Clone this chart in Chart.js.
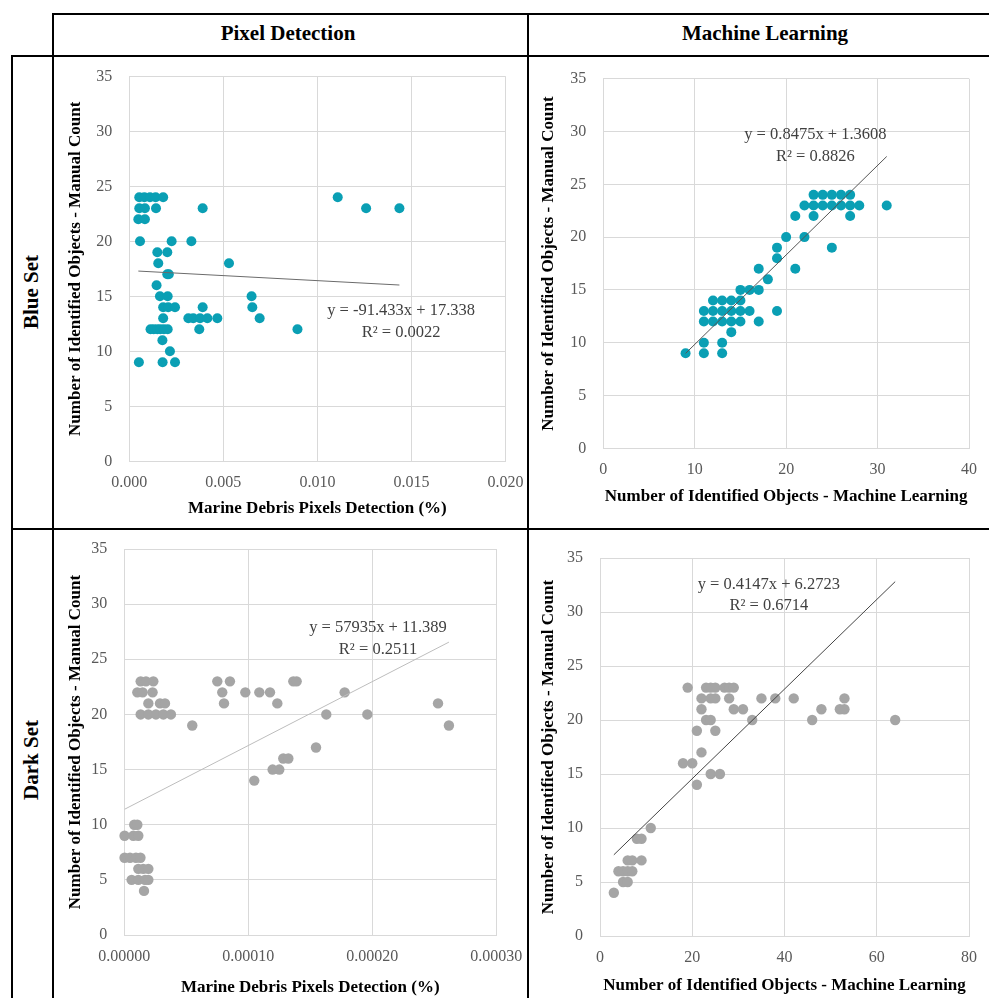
<!DOCTYPE html>
<html>
<head>
<meta charset="utf-8">
<script src="https://cdn.jsdelivr.net/npm/chart.js"></script>
<style>
  body { margin: 0; background: #fff; width: 989px; height: 998px; position: relative; overflow: hidden; font-family: "Liberation Serif", serif; }
  canvas { position: absolute; left: 0; top: 0; }
  .ln { position: absolute; background: #000; }
  .hd { position: absolute; font-weight: bold; font-size: 21px; white-space: nowrap; transform: translate(-50%, -50%); }
  .rl { position: absolute; font-weight: bold; font-size: 21px; white-space: nowrap; transform: translate(-50%, -50%) rotate(-90deg); }
</style>
</head>
<body>
<div class="ln" style="left:53px;top:13px;width:936px;height:2px"></div>
<div class="ln" style="left:11px;top:55px;width:978px;height:2px"></div>
<div class="ln" style="left:11px;top:528px;width:978px;height:2px"></div>
<div class="ln" style="left:11px;top:55px;width:2px;height:943px"></div>
<div class="ln" style="left:52px;top:13px;width:2px;height:985px"></div>
<div class="ln" style="left:527px;top:13px;width:2px;height:985px"></div>
<div class="hd" style="left:288px;top:33px">Pixel Detection</div>
<div class="hd" style="left:765px;top:33px">Machine Learning</div>
<div class="rl" style="left:31px;top:292px">Blue Set</div>
<div class="rl" style="left:31px;top:760px">Dark Set</div>

<canvas id="c1" width="989" height="998"></canvas>
<canvas id="c2" width="989" height="998"></canvas>
<canvas id="c3" width="989" height="998"></canvas>
<canvas id="c4" width="989" height="998"></canvas>

<script>
// Blue set - pixel detection
const bluePixelX = [0.00053, 0.0008, 0.0011, 0.0014, 0.0018, 0.01108,
  0.00053, 0.00083, 0.00142, 0.0039, 0.01259, 0.01436,
  0.00048, 0.00083,
  0.00057, 0.00225, 0.0033,
  0.00149, 0.00202,
  0.00154, 0.0053,
  0.00202, 0.0021,
  0.00145,
  0.00163, 0.00204, 0.0065,
  0.0018, 0.00207, 0.00243, 0.0039, 0.00654,
  0.0018, 0.00314, 0.0034, 0.00376, 0.00415, 0.00468, 0.00693,
  0.00113, 0.0013, 0.00149, 0.00165, 0.00184, 0.00204, 0.00372, 0.00894,
  0.00176,
  0.00216,
  0.00051, 0.00177, 0.00243];
const bluePixelY = [24, 24, 24, 24, 24, 24,
  23, 23, 23, 23, 23, 23,
  22, 22,
  20, 20, 20,
  19, 19,
  18, 18,
  17, 17,
  16,
  15, 15, 15,
  14, 14, 14, 14, 14,
  13, 13, 13, 13, 13, 13, 13,
  12, 12, 12, 12, 12, 12, 12, 12,
  11,
  10,
  9, 9, 9];
const bluePixelFit = [-91.433, 17.338];

// Blue set - machine learning
const blueMlX = [9, 11, 13, 11, 13, 14,
  11, 12, 13, 14, 15, 17,
  11, 12, 13, 14, 15, 16, 19,
  12, 13, 14, 15,
  15, 16, 17,
  18, 17, 21, 19, 19, 25, 20, 22,
  21, 23, 27,
  22, 23, 24, 25, 26, 27, 28, 31,
  23, 24, 25, 26, 27];
const blueMlY = [9, 9, 9, 10, 10, 11,
  12, 12, 12, 12, 12, 12,
  13, 13, 13, 13, 13, 13, 13,
  14, 14, 14, 14,
  15, 15, 15,
  16, 17, 17, 18, 19, 19, 20, 20,
  22, 22, 22,
  23, 23, 23, 23, 23, 23, 23, 23,
  24, 24, 24, 24, 24];
const blueMlFit = [0.8475, 1.3608];

// Dark set - pixel detection
const darkPixelX = [0.0000132, 0.0000175, 0.0000234, 0.000075, 0.0000852, 0.0001363, 0.000139,
  0.0000105, 0.0000148, 0.0000228, 0.000079, 0.0000976, 0.0001089, 0.0001175, 0.0001777,
  0.0000194, 0.0000288, 0.0000328, 0.0000804, 0.0001234, 0.000253,
  0.0000132, 0.0000194, 0.0000255, 0.0000315, 0.0000376, 0.0001629, 0.000196,
  0.0000548, 0.0002618,
  0.0001546,
  0.0001282, 0.0001323,
  0.0001196, 0.000125,
  0.0001048,
  0.000008, 0.0000105,
  0.0000002, 0.0000073, 0.0000113,
  0.0000002, 0.0000046, 0.0000094, 0.000013,
  0.0000113, 0.0000153, 0.0000194,
  0.0000059, 0.0000113, 0.0000167, 0.0000194,
  0.0000159];
const darkPixelY = [23, 23, 23, 23, 23, 23, 23,
  22, 22, 22, 22, 22, 22, 22, 22,
  21, 21, 21, 21, 21, 21,
  20, 20, 20, 20, 20, 20, 20,
  19, 19,
  17,
  16, 16,
  15, 15,
  14,
  10, 10,
  9, 9, 9,
  7, 7, 7, 7,
  6, 6, 6,
  5, 5, 5, 5,
  4];
const darkPixelFit = [57935, 11.389];

// Dark set - machine learning
const darkMlX = [19, 23, 24, 25, 27, 28, 29,
  22, 24, 25, 28, 35, 38, 42, 53,
  22, 29, 31, 48, 52, 53,
  23, 24, 33, 46, 64,
  21, 25,
  22,
  18, 20,
  24, 26,
  21,
  11,
  8, 9,
  6, 7, 9,
  4, 5, 6, 7,
  5, 6,
  3];
const darkMlY = [23, 23, 23, 23, 23, 23, 23,
  22, 22, 22, 22, 22, 22, 22, 22,
  21, 21, 21, 21, 21, 21,
  20, 20, 20, 20, 20,
  19, 19,
  17,
  16, 16,
  15, 15,
  14,
  10,
  9, 9,
  7, 7, 7,
  6, 6, 6, 6,
  5, 5,
  4];
const darkMlFit = [0.4147, 6.2723];

const F = "'Liberation Serif', serif";
const BLUE = '#0a9fb4';
const GRAY = '#a5a5a5';

function scatterChart(id, p) {
  const pts = p.xs.map((x, i) => ({ x: x, y: p.ys[i] }));
  const xMin = Math.min(...p.xs), xMaxData = Math.max(...p.xs);
  const trend = [xMin, xMaxData].map(x => ({ x: x, y: p.fit[0] * x + p.fit[1] }));
  const eqPlugin = {
    id: 'eq' + id,
    afterDatasetsDraw(chart) {
      const c = chart.ctx, xs = chart.scales.x, ys = chart.scales.y;
      c.save();
      c.font = '16.5px ' + F;
      c.fillStyle = '#404040';
      c.textAlign = 'center';
      c.textBaseline = 'middle';
      c.fillText(p.eqText, xs.getPixelForValue(p.labelAt[0]), ys.getPixelForValue(p.labelAt[1]));
      c.fillText(p.r2Text, xs.getPixelForValue(p.labelAt[0]), ys.getPixelForValue(p.labelAt[2]));
      c.restore();
    }
  };
  return new Chart(document.getElementById(id), {
    type: 'scatter',
    data: {
      datasets: [
        { data: pts, backgroundColor: p.color, borderColor: p.color, borderWidth: 0,
          pointRadius: p.r, pointHoverRadius: p.r, clip: false, order: 1 },
        { type: 'line', data: trend, borderColor: p.lineColor, borderWidth: 1,
          pointRadius: 0, fill: false, order: 0 }
      ]
    },
    options: {
      responsive: false,
      animation: false,
      events: [],
      layout: { padding: p.pad, autoPadding: false },
      plugins: { legend: { display: false }, tooltip: { enabled: false } },
      scales: {
        x: {
          type: 'linear', min: 0, max: p.xMax,
          ticks: { stepSize: p.xStep, padding: 12, color: '#595959', font: { family: F, size: 16 },
                   callback: v => v.toFixed(p.dec) },
          grid: { color: '#d9d9d9', drawTicks: false },
          border: { color: '#d9d9d9' },
          title: { display: true, text: p.xTitle, color: '#000', padding: 0,
                   font: { family: F, size: 17, weight: 'bold' } },
          afterFit: s => { s.height = p.xH; }
        },
        y: {
          type: 'linear', min: 0, max: 35,
          ticks: { stepSize: 5, padding: 17, color: '#595959', font: { family: F, size: 16 } },
          grid: { color: '#d9d9d9', drawTicks: false },
          border: { color: '#d9d9d9' },
          title: { display: true, text: 'Number of Identified Objects - Manual Count', color: '#000', padding: 0,
                   font: { family: F, size: 17, weight: 'bold' } },
          afterFit: s => { s.width = p.yW; }
        }
      }
    },
    plugins: [eqPlugin]
  });
}

scatterChart('c1', {
  xs: bluePixelX, ys: bluePixelY, fit: bluePixelFit, color: BLUE, r: 5, lineColor: '#6b6b6b',
  xMax: 0.02, xStep: 0.005, dec: 3, xTitle: 'Marine Debris Pixels Detection (%)',
  pad: { left: 65, right: 483.5, top: 76.3, bottom: 479 }, yW: 64.3, xH: 57.7,
  eqText: 'y = -91.433x + 17.338', r2Text: 'R\u00B2 = 0.0022', labelAt: [0.01445, 13.66, 11.69]
});

scatterChart('c2', {
  xs: blueMlX, ys: blueMlY, fit: blueMlFit, color: BLUE, r: 5, lineColor: '#555555',
  xMax: 40, xStep: 10, dec: 0, xTitle: 'Number of Identified Objects - Machine Learning',
  pad: { left: 538, right: 12.4, top: 78.7, bottom: 491 }, yW: 65.3, xH: 58.7,
  eqText: 'y = 0.8475x + 1.3608', r2Text: 'R\u00B2 = 0.8826', labelAt: [23.2, 29.67, 27.58]
});

scatterChart('c3', {
  xs: darkPixelX, ys: darkPixelY, fit: darkPixelFit, color: GRAY, r: 5.2, lineColor: '#bdbdbd',
  xMax: 0.0003, xStep: 0.0001, dec: 5, xTitle: 'Marine Debris Pixels Detection (%)',
  pad: { left: 65, right: 492.7, top: 549, bottom: 0 }, yW: 59.3, xH: 63,
  eqText: 'y = 57935x + 11.389', r2Text: 'R\u00B2 = 0.2511', labelAt: [0.0002046, 27.83, 25.84]
});

scatterChart('c4', {
  xs: darkMlX, ys: darkMlY, fit: darkMlFit, color: GRAY, r: 5.2, lineColor: '#444444',
  xMax: 80, xStep: 20, dec: 0, xTitle: 'Number of Identified Objects - Machine Learning',
  pad: { left: 538, right: 11.4, top: 558, bottom: 2 }, yW: 62, xH: 60,
  eqText: 'y = 0.4147x + 6.2723', r2Text: 'R\u00B2 = 0.6714', labelAt: [36.6, 32.5, 30.56]
});
</script>
</body>
</html>
